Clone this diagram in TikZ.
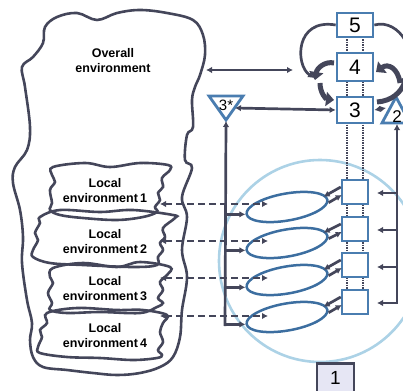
\documentclass[tikz,border=0pt]{standalone}
\usepackage{fontspec}
\setmainfont{Liberation Sans}
\usetikzlibrary{arrows.meta,shapes.geometric,calc}
\definecolor{dk}{RGB}{68,70,90}
\definecolor{bx}{RGB}{74,125,176}
\definecolor{el}{RGB}{60,110,160}
\definecolor{cir}{RGB}{172,210,230}
\definecolor{lav}{RGB}{230,230,244}
\begin{document}
\begin{tikzpicture}[x=1pt,y=-1pt,
 ln/.style={draw=dk,line width=2.7pt},
 arr/.style={ln,-{Latex[length=6pt,width=6.5pt]}},
 darr/.style={ln,{Latex[length=6pt,width=6.5pt]}-{Latex[length=6pt,width=6.5pt]}},
 dsh/.style={darr,dash pattern=on 7pt off 4pt},
 dots/.style={draw=dk,line width=2pt,dash pattern=on 1.5pt off 1pt},
 thick arr/.style={draw=dk,line width=5pt,-{Triangle[length=8pt,width=14pt]}},
 bigbox/.style={draw=bx,line width=2.7pt,fill=white,minimum width=36pt,inner sep=0pt,font=\fontsize{21}{21}\selectfont},
 smbox/.style={draw=bx,line width=2.5pt,fill=white,minimum width=26pt,minimum height=24pt,inner sep=0pt},
 cloudline/.style={draw=dk,line width=2.6pt},
 lbl/.style={font=\bfseries\fontsize{12.5}{15}\selectfont,align=center,inner sep=0pt},
 ell/.style={draw=el,line width=2.5pt,ellipse,minimum width=82pt,minimum height=27pt,inner sep=0pt,rotate=10},
 tri/.style={draw=bx,line width=2.8pt,fill=white,line join=miter}
]
\useasboundingbox (0,0) rectangle (403,390);

% big light-blue circle
\draw[cir,line width=2.6pt] (320,261) circle (101);

% overall environment cloud
\draw[cloudline] plot[smooth cycle,tension=0.6] coordinates {
(57,17)(77,13)(97,20)(117,13)(140,10)(167,13)(193,20)(203,35)(205,55)(200,75)
(195,87)(192,100)(193,127)(187,135)(185,160)(192,168)(182,197)(187,217)(182,250)
(187,277)(182,310)(180,337)(173,357)(160,367)(140,373)(117,375)(93,373)(67,370)
(43,367)(33,357)(30,340)(32,323)(27,300)(22,263)(23,237)(20,210)(13,183)(15,167)
(27,150)(30,127)(25,87)(22,67)(33,57)(43,43)(45,27)};
\node[lbl] (ov) at (113,61) {Overall\\environment};

% local environment clouds
\draw[cloudline] plot[smooth cycle,tension=0.6] coordinates {
(53,167)(85,163)(110,167)(140,163)(168,165)(170,170)(162,178)(163,187)(158,193)
(160,200)(155,207)(157,212)(143,217)(117,220)(83,218)(60,215)(50,210)(52,203)
(50,190)(55,182)(52,175)};
\draw[cloudline] plot[smooth cycle,tension=0.6] coordinates {
(40,217)(60,210)(100,212)(133,210)(173,215)(175,218)(163,228)(165,237)(160,243)
(163,250)(158,257)(157,265)(133,267)(83,265)(50,263)(33,257)(33,250)(38,240)
(35,233)(40,223)};
\draw[cloudline] plot[smooth cycle,tension=0.6] coordinates {
(53,268)(83,263)(117,267)(140,262)(170,267)(167,275)(160,282)(163,290)(158,298)
(163,303)(157,307)(140,313)(100,312)(67,313)(50,310)(52,303)(48,293)(53,283)(50,277)};
\draw[cloudline] plot[smooth cycle,tension=0.6] coordinates {
(47,313)(77,308)(117,310)(143,310)(167,315)(163,323)(160,332)(163,342)(158,350)
(162,355)(157,358)(133,360)(100,358)(67,357)(40,353)(38,347)(42,337)(40,330)(47,323)};
\node[lbl] (l1) at (105,191) {Local\\environment\,1};
\node[lbl] (l2) at (105,242) {Local\\environment\,2};
\node[lbl] (l3) at (105,289) {Local\\environment\,3};
\node[lbl] (l4) at (105,336) {Local\\environment\,4};

% dotted double lines
\draw[dots] (347,37) -- (347,302);
\draw[dots] (363,37) -- (363,302);

% boxes
\node[bigbox,minimum height=24pt] (b5) at (355,25) {5};
\node[bigbox,minimum height=28pt] (b4) at (355,67) {4};
\node[bigbox,minimum height=26pt] (b3) at (355,110) {3};
\node[smbox] (s1) at (355,192) {};
\node[smbox] (s2) at (355,229) {};
\node[smbox] (s3) at (355,265) {};
\node[smbox] (s4) at (355,302) {};
\node[draw=dk,line width=2.7pt,fill=lav,minimum width=37pt,minimum height=30pt,inner sep=0pt,font=\fontsize{19}{19}\selectfont,anchor=north] (b1) at (335.5,362) {\raisebox{-3pt}{1}};

% triangles
\draw[tri] (209,96) -- (243,96) -- (226,120) -- cycle;
\node[inner sep=0pt,font=\fontsize{15}{15}\selectfont] (t3) at (226,105) {3*};
\draw[tri] (382,123) -- (396,97) -- (410,123) -- cycle;
\node[inner sep=0pt,font=\fontsize{17}{17}\selectfont] (t2) at (397,117) {2};
\coordinate (t3r) at (235,108);
\coordinate (t3b) at (226,121);
\coordinate (t2l) at (386,108);
\coordinate (t2b) at (397,124);

% ellipses
\node[ell] (e1) at (287,207) {};
\node[ell] (e2) at (287,243) {};
\node[ell] (e3) at (287,280) {};
\node[ell] (e4) at (287,317) {};

% overall <-> 4
\coordinate (ovr) at (206,70);
\coordinate (b4l) at (293,70);
\draw[darr] (ovr) -- (b4l);
% 3* <-> 3 and 3 <-> 2
\draw[darr] (t3r) -- (b3.west);
\draw[darr] (b3.east) -- (t2l);

% left vertical line and branches
\coordinate (lv) at (225,326);
\draw[arr] (lv) -- (t3b);
\foreach \e in {e1,e2,e3,e4}{
  \draw[arr] (lv |- \e.west) -- (\e.west);
}

% right vertical line and branches
\coordinate (rv) at (397,304);
\draw[arr] (rv) -- (t2b);
\foreach \s/\y in {s1/193,s2/230,s3/267,s4/303}{
  \coordinate (ra\s) at (397,\y);
  \coordinate (rb\s) at (377,\y);
  \draw[arr] (ra\s) -- (rb\s);
}

% ellipse <-> small box pairs
\foreach \e/\s in {e1/s1,e2/s2,e3/s3,e4/s4}{
  \draw[arr] ($(\s.west)+(0,-5)$) -- ($(\e.east)+(-5,-3)$);
  \draw[arr] ($(\e.east)+(0,3)$) -- ($(\s.west)+(1,3)$);
}

% dashed local env <-> ellipse
\foreach \e/\y in {e1/204,e2/241,e3/278,e4/316}{
  \coordinate (la\e) at (160,\y);
  \coordinate (lb\e) at (268,\y);
  \draw[dsh] (la\e) -- (lb\e);
}

% thin curved arrows from box 5
\coordinate (sw1) at (314,78);
\coordinate (sw2) at (404,82);
\draw[arr] (b5.west) .. controls (295,18) and (295,65) .. (sw1);
\draw[arr] (b5.east) .. controls (400,18) and (420,55) .. (sw2);

% thick swirl arrows
\coordinate (ka) at (334,63);
\coordinate (kb) at (315,80);
\coordinate (kc) at (320,83);
\coordinate (kd) at (334,100);
\draw[thick arr] (ka) .. controls (325,61) and (317,68) .. (kb);
\draw[thick arr] (kc) .. controls (320,93) and (326,99) .. (kd);
\coordinate (kr1) at (400,83);
\coordinate (kr2) at (376,72);
\coordinate (kr3) at (377,102);
\coordinate (kr4) at (407,76);
\draw[thick arr] (kr1) .. controls (398,68) and (388,63) .. (kr2);
\draw[thick arr] (kr3) .. controls (392,101) and (401,92) .. (kr4);
\end{tikzpicture}
\end{document}
